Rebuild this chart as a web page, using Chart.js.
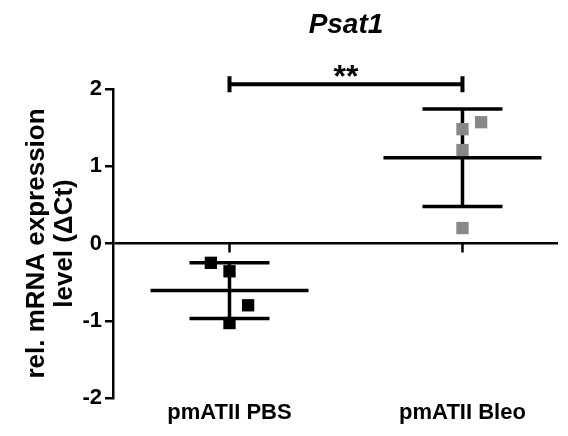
<!DOCTYPE html>
<html>
<head>
<meta charset="utf-8">
<script src="https://cdn.jsdelivr.net/npm/chart.js@4.4.1/dist/chart.umd.min.js"></script>
<style>
  html, body { margin: 0; padding: 0; background: #fff; }
  #wrap { width: 568px; height: 436px; }
</style>
</head>
<body>
<div id="wrap"><canvas id="chart"></canvas></div>
<script>
const categories = ['pmATII PBS', 'pmATII Bleo'];
const pbsX = [0.92, 1.0, 1.08, 1.0];
const pbsValues = [-0.25, -0.36, -0.80, -1.03];
const bleoX = [2.0, 2.08, 2.0, 2.0];
const bleoValues = [1.48, 1.57, 1.21, 0.20];
const groupMeans = [-0.61, 1.11];
const groupSDs = [0.36, 0.63];
const yTicks = [-2, -1, 0, 1, 2];
const sigLabel = '**';
const sigLevel = 2.06;

const FONT = "'Liberation Sans', Arial, sans-serif";

// mean +/- SD bars, drawn under the points
const errorBars = {
  id: 'errorBars',
  beforeDatasetsDraw(chart) {
    const { ctx, scales: { x, y } } = chart;
    const zero = y.getPixelForValue(0);
    ctx.save();
    ctx.strokeStyle = '#000';
    ctx.lineWidth = 2.5;
    categories.forEach((c, i) => {
      const px = x.getPixelForValue(i + 1);
      ctx.beginPath();
      ctx.moveTo(px, zero);
      ctx.lineTo(px, zero + 9);
      ctx.stroke();
    });
    ctx.lineWidth = 3.5;
    groupMeans.forEach((m, i) => {
      const cx = x.getPixelForValue(i + 1);
      const ym = y.getPixelForValue(m);
      const yHi = y.getPixelForValue(m + groupSDs[i]);
      const yLo = y.getPixelForValue(m - groupSDs[i]);
      ctx.beginPath();
      ctx.moveTo(cx - 79, ym); ctx.lineTo(cx + 79, ym);
      ctx.moveTo(cx - 40, yHi); ctx.lineTo(cx + 40, yHi);
      ctx.moveTo(cx - 40, yLo); ctx.lineTo(cx + 40, yLo);
      ctx.moveTo(cx, yHi); ctx.lineTo(cx, yLo);
      ctx.stroke();
    });
    ctx.restore();
  },
  afterDraw(chart) {
    const { ctx, scales: { x, y } } = chart;
    const mid = x.getPixelForValue(1.5);
    ctx.save();
    ctx.fillStyle = '#000';
    ctx.textAlign = 'center';
    ctx.textBaseline = 'alphabetic';
    ctx.font = 'italic bold 28px ' + FONT;
    ctx.fillText('Psat1', mid, 33);

    // significance bracket
    const by = y.getPixelForValue(sigLevel);
    const x1 = x.getPixelForValue(1), x2 = x.getPixelForValue(2);
    ctx.strokeStyle = '#000';
    ctx.lineWidth = 4;
    ctx.beginPath();
    ctx.moveTo(x1, by); ctx.lineTo(x2, by);
    ctx.moveTo(x1, by - 8); ctx.lineTo(x1, by + 8);
    ctx.moveTo(x2, by - 8); ctx.lineTo(x2, by + 8);
    ctx.stroke();
    ctx.font = 'bold 32px ' + FONT;
    ctx.fillText(sigLabel, mid, by + 3);
    ctx.restore();
  }
};

new Chart(document.getElementById('chart'), {
  type: 'scatter',
  data: {
    datasets: [{
      label: categories[0],
      data: pbsValues.map((v, i) => ({ x: pbsX[i], y: v })),
      backgroundColor: '#000',
      pointStyle: 'rect',
      pointRadius: 8.7,
      borderWidth: 0
    }, {
      label: categories[1],
      data: bleoValues.map((v, i) => ({ x: bleoX[i], y: v })),
      backgroundColor: '#888888',
      pointStyle: 'rect',
      pointRadius: 8.7,
      borderWidth: 0
    }]
  },
  options: {
    responsive: true,
    maintainAspectRatio: false,
    animation: false,
    layout: { padding: { top: 89, right: 10, left: 0, bottom: 0 } },
    plugins: {
      legend: { display: false },
      tooltip: { enabled: false }
    },
    scales: {
      x: {
        type: 'linear',
        min: 0.5,
        max: 2.41,
        afterBuildTicks: s => { s.ticks = categories.map((c, i) => ({ value: i + 1 })); },
        afterFit: s => { s.height = 38; },
        grid: { display: false },
        border: { display: false },
        ticks: {
          color: '#000',
          padding: -6,
          font: { family: FONT, size: 22, weight: 'bold' },
          callback: v => categories[v - 1]
        }
      },
      y: {
        min: -2,
        max: 2,
        afterBuildTicks: s => { s.ticks = yTicks.map(v => ({ value: v })); },
        afterFit: s => { s.width = 113; },
        border: { display: true, color: '#000', width: 2.5 },
        grid: {
          color: c => c.tick && c.tick.value === 0 ? '#000' : 'rgba(0,0,0,0)',
          lineWidth: 2.5,
          tickColor: '#000',
          tickWidth: 2.5,
          tickLength: 8
        },
        ticks: {
          color: '#000',
          padding: 3,
          font: { family: FONT, size: 22, weight: 'bold' }
        },
        title: {
          display: true,
          text: ['rel. mRNA expression', 'level (\u0394Ct)'],
          color: '#000',
          padding: { top: 23, bottom: 0 },
          font: { family: FONT, size: 26, weight: 'bold', lineHeight: 1.08 }
        }
      }
    }
  },
  plugins: [errorBars]
});
</script>
</body>
</html>
